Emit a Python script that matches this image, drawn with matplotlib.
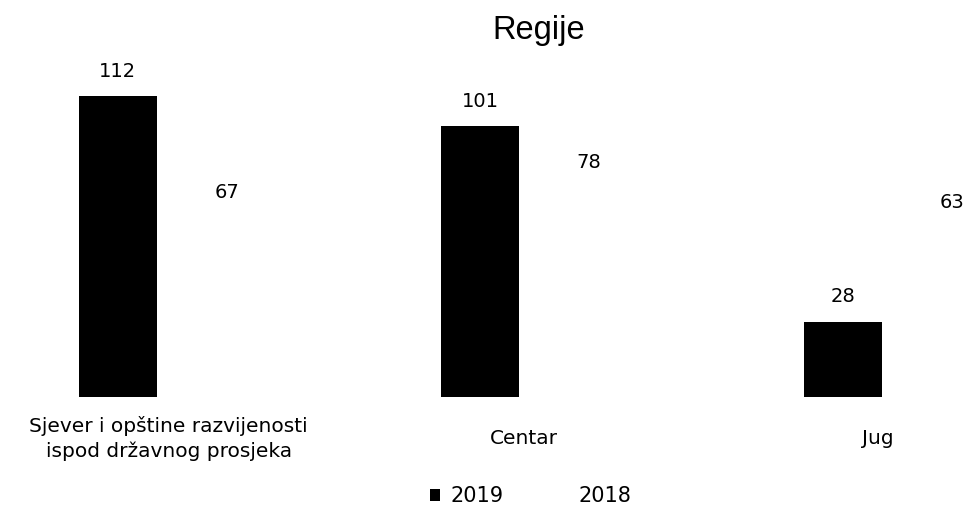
import numpy as np
import matplotlib.pyplot as plt

# Data
categories = ["Sjever i opštine razvijenosti\nispod državnog prosjeka", "Centar", "Jug"]
values_2019 = [112, 101, 28]
values_2018 = [67, 78, 63]
series = ["2019", "2018"]

fig = plt.figure(figsize=(9.68, 5.16), dpi=100)
ax = fig.add_axes([0.0, 0.2306, 1.0, 0.65])

x = np.arange(len(categories))
w = 0.215
off = 0.15

b19 = ax.bar(x - off, values_2019, w, color="black", label=series[0])
b18 = ax.bar(x + off, values_2018, w, color="white", label=series[1])

for bars in (b19, b18):
    for r in bars:
        ax.annotate(str(int(r.get_height())), (r.get_x() + r.get_width() / 2, r.get_height()),
                    xytext=(0, 18), textcoords="offset points", ha="center", va="center",
                    fontsize=14, family="DejaVu Sans")

ax.set_xlim(-0.475, 2.195)
ax.set_ylim(0, 125)
ax.axis("off")

label_dx = [-0.01, -0.03, -0.055]
for i, c in enumerate(categories):
    ax.text(x[i] + label_dx[i], -15.5, c, ha="center", va="center", fontsize=14.5,
            family="DejaVu Sans", linespacing=1.4)

fig.text(0.556, 0.94, "Regije", ha="center", va="center", fontsize=23.5, family="Liberation Sans")

leg = fig.legend(handles=[b19, b18], labels=series, loc="lower center", ncol=2,
                 bbox_to_anchor=(0.548, -0.017), frameon=False, fontsize=15,
                 handlelength=0.5, handleheight=0.5, handletextpad=0.5, columnspacing=2.6)

fig.savefig("out.png", dpi=100)
